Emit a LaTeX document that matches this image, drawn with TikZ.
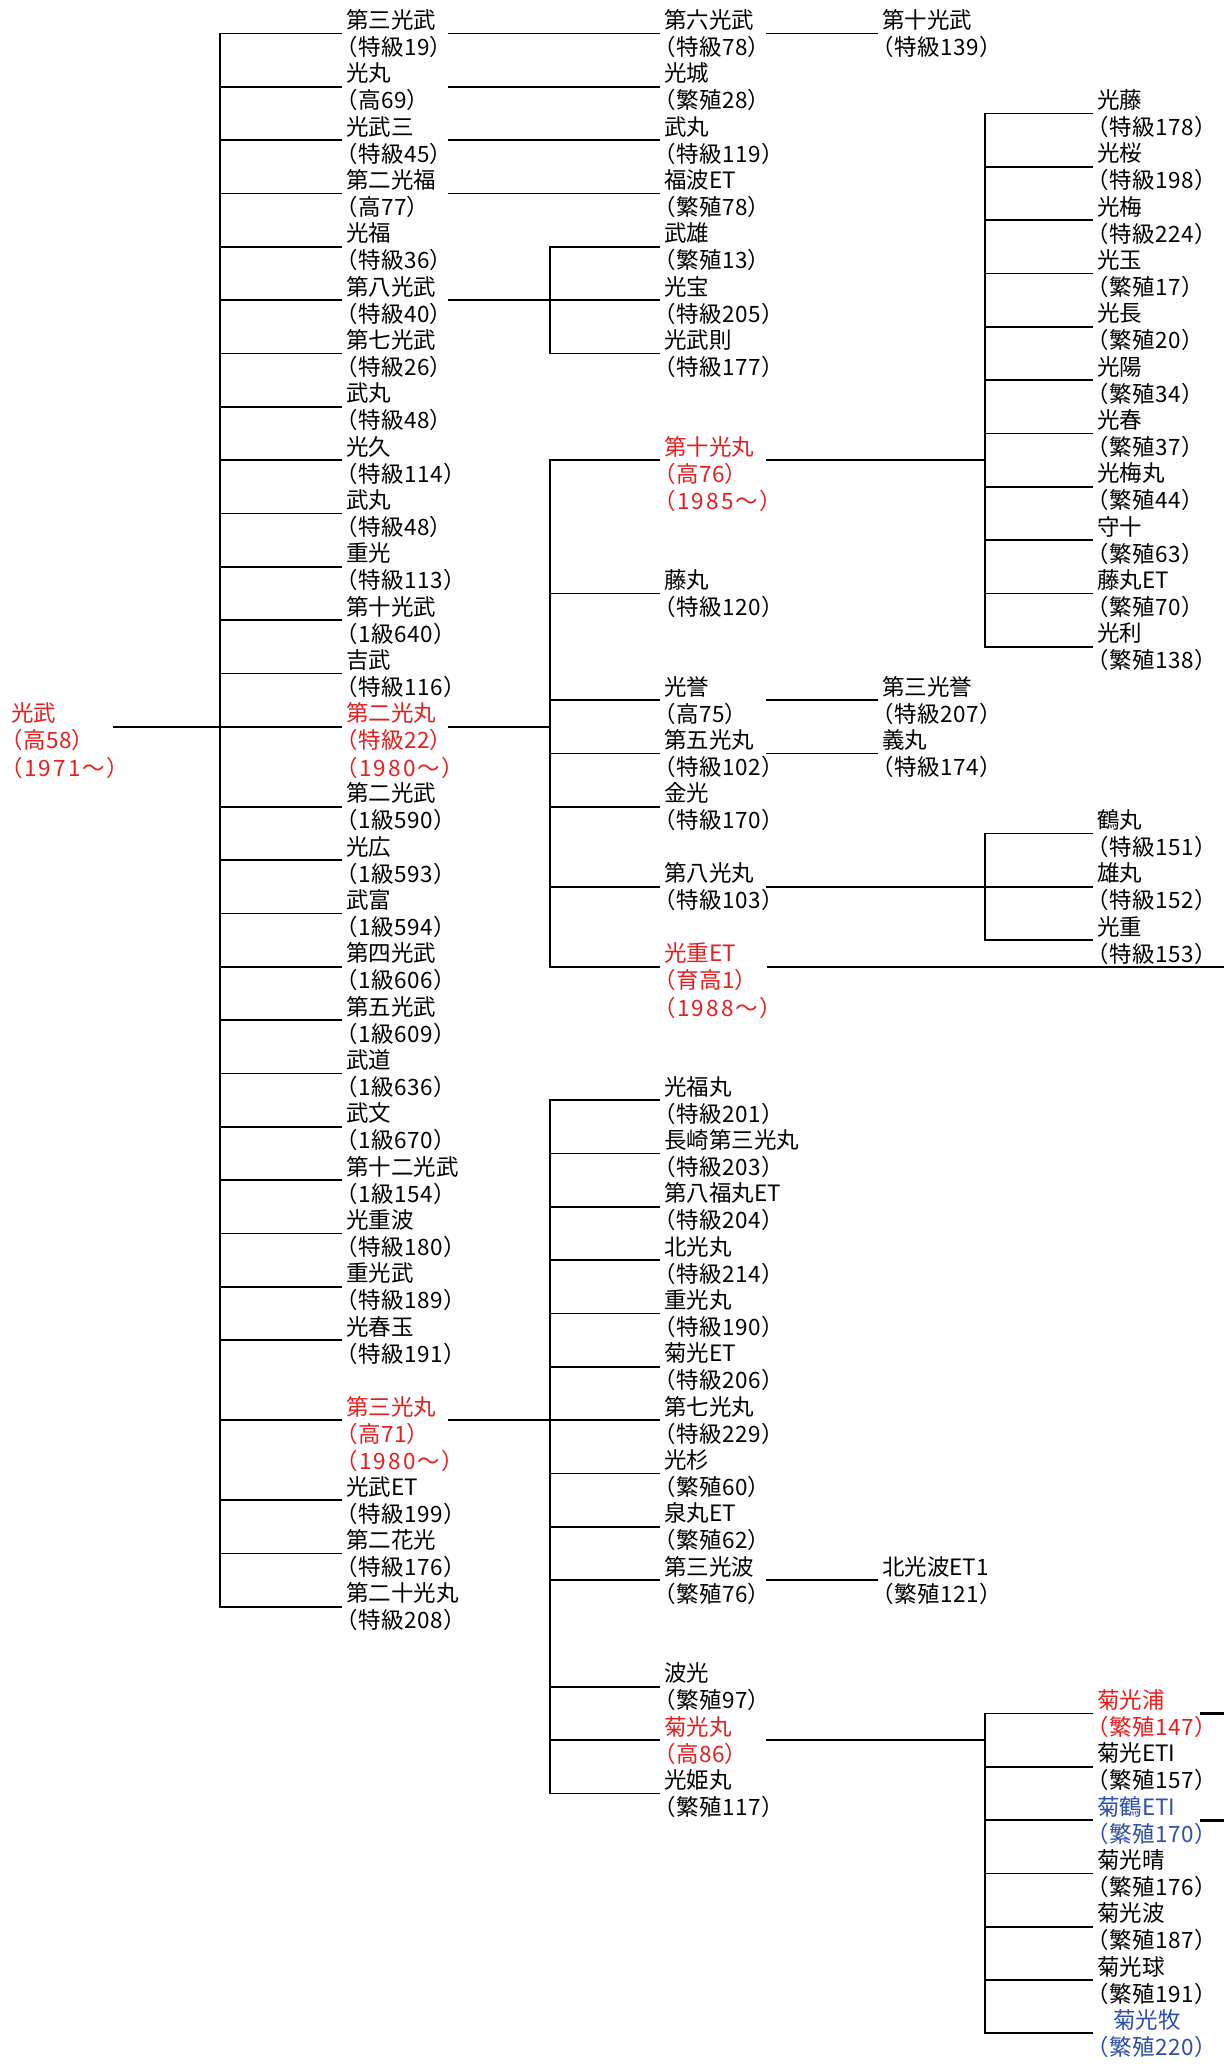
\documentclass[tikz,border=0pt]{standalone}
\usepackage{fontspec}
\newfontfamily\jp{Noto Sans CJK JP}[RawFeature=+palt]
\newfontfamily\jpi{Noto Sans CJK JP}[RawFeature=+palt,LetterSpace=3]
\newfontfamily\jpy{Noto Sans CJK JP}[RawFeature=+palt,LetterSpace=9]
\definecolor{kred}{RGB}{230,30,30}
\definecolor{kblue}{RGB}{45,80,170}
\tikzset{
  tx/.style={font=\jp\fontsize{22.5pt}{26.67pt}\selectfont, inner sep=0pt, anchor=west,
             text height=21.88pt, text depth=4.78pt},
  txi/.style={tx, font=\jpi\fontsize{22.5pt}{26.67pt}\selectfont, anchor=north west},
  txy/.style={tx, font=\jpy\fontsize{22.5pt}{26.67pt}\selectfont, anchor=north west},
  ln/.style={line width=1.8pt, line cap=rect},
  lnthick/.style={line width=2.7pt}
}
% [color]{node name}{x}{line index}{title}{info}
\newcommand\ent[6][black]{%
  \node[tx,text=#1] (#2) at (#3,{20+26.667*#4}) {#5};
  \node[txi,text=#1] (#2i) at (#2.south west) {#6};
}
\newcommand\yrline[2]{%
  \node[txy,text=kred] (#1y) at (#1i.south west) {#2};
}
\begin{document}
\begin{tikzpicture}[x=1pt,y=-1pt]
\useasboundingbox (0,0) rectangle (1224,2067);
\fill[white] (0,0) rectangle (1224,2067);
\coordinate (o0) at (114,0);
\coordinate (bus1) at (220,0);
\coordinate (o1) at (449,0);
\coordinate (bus2) at (550,0);
\coordinate (o2) at (767,0);
\coordinate (bus3) at (985,0);
\coordinate (o3) at (1200,0);
\coordinate (edge) at (1224,0);

% root
\ent[kred]{r}{11}{26}{光武}{（高58）}
\yrline{r}{（1971～）}

% column 1
\ent{a1}{346}{0}{第三光武}{（特級19）}
\ent{a2}{346}{2}{光丸}{（高69）}
\ent{a3}{346}{4}{光武三}{（特級45）}
\ent{a4}{346}{6}{第二光福}{（高77）}
\ent{a5}{346}{8}{光福}{（特級36）}
\ent{a6}{346}{10}{第八光武}{（特級40）}
\ent{a7}{346}{12}{第七光武}{（特級26）}
\ent{a8}{346}{14}{武丸}{（特級48）}
\ent{a9}{346}{16}{光久}{（特級114）}
\ent{a10}{346}{18}{武丸}{（特級48）}
\ent{a11}{346}{20}{重光}{（特級113）}
\ent{a12}{346}{22}{第十光武}{（1級640）}
\ent{a13}{346}{24}{吉武}{（特級116）}
\ent[kred]{a14}{346}{26}{第二光丸}{（特級22）}
\yrline{a14}{（1980～）}
\ent{a15}{346}{29}{第二光武}{（1級590）}
\ent{a16}{346}{31}{光広}{（1級593）}
\ent{a17}{346}{33}{武富}{（1級594）}
\ent{a18}{346}{35}{第四光武}{（1級606）}
\ent{a19}{346}{37}{第五光武}{（1級609）}
\ent{a20}{346}{39}{武道}{（1級636）}
\ent{a21}{346}{41}{武文}{（1級670）}
\ent{a22}{346}{43}{第十二光武}{（1級154）}
\ent{a23}{346}{45}{光重波}{（特級180）}
\ent{a24}{346}{47}{重光武}{（特級189）}
\ent{a25}{346}{49}{光春玉}{（特級191）}
\ent[kred]{a26}{346}{52}{第三光丸}{（高71）}
\yrline{a26}{（1980～）}
\ent{a27}{346}{55}{光武ET}{（特級199）}
\ent{a28}{346}{57}{第二花光}{（特級176）}
\ent{a29}{346}{59}{第二十光丸}{（特級208）}

% column 2
\ent{b1}{664}{0}{第六光武}{（特級78）}
\ent{b2}{664}{2}{光城}{（繁殖28）}
\ent{b3}{664}{4}{武丸}{（特級119）}
\ent{b4}{664}{6}{福波ET}{（繁殖78）}
\ent{b5}{664}{8}{武雄}{（繁殖13）}
\ent{b6}{664}{10}{光宝}{（特級205）}
\ent{b7}{664}{12}{光武則}{（特級177）}
\ent[kred]{b8}{664}{16}{第十光丸}{（高76）}
\yrline{b8}{（1985～）}
\ent{b9}{664}{21}{藤丸}{（特級120）}
\ent{b10}{664}{25}{光誉}{（高75）}
\ent{b11}{664}{27}{第五光丸}{（特級102）}
\ent{b12}{664}{29}{金光}{（特級170）}
\ent{b13}{664}{32}{第八光丸}{（特級103）}
\ent[kred]{b14}{664}{35}{光重ET}{（育高1）}
\yrline{b14}{（1988～）}
\ent{b15}{664}{40}{光福丸}{（特級201）}
\ent{b16}{664}{42}{長崎第三光丸}{（特級203）}
\ent{b17}{664}{44}{第八福丸ET}{（特級204）}
\ent{b18}{664}{46}{北光丸}{（特級214）}
\ent{b19}{664}{48}{重光丸}{（特級190）}
\ent{b20}{664}{50}{菊光ET}{（特級206）}
\ent{b21}{664}{52}{第七光丸}{（特級229）}
\ent{b22}{664}{54}{光杉}{（繁殖60）}
\ent{b23}{664}{56}{泉丸ET}{（繁殖62）}
\ent{b24}{664}{58}{第三光波}{（繁殖76）}
\ent{b25}{664}{62}{波光}{（繁殖97）}
\ent[kred]{b26}{664}{64}{菊光丸}{（高86）}
\ent{b27}{664}{66}{光姫丸}{（繁殖117）}

% column 3
\ent{c1}{882}{0}{第十光武}{（特級139）}
\ent{c2}{882}{25}{第三光誉}{（特級207）}
\ent{c3}{882}{27}{義丸}{（特級174）}
\ent{c4}{882}{58}{北光波ET1}{（繁殖121）}

% column 4
\ent{d1}{1097}{3}{光藤}{（特級178）}
\ent{d2}{1097}{5}{光桜}{（特級198）}
\ent{d3}{1097}{7}{光梅}{（特級224）}
\ent{d4}{1097}{9}{光玉}{（繁殖17）}
\ent{d5}{1097}{11}{光長}{（繁殖20）}
\ent{d6}{1097}{13}{光陽}{（繁殖34）}
\ent{d7}{1097}{15}{光春}{（繁殖37）}
\ent{d8}{1097}{17}{光梅丸}{（繁殖44）}
\ent{d9}{1097}{19}{守十}{（繁殖63）}
\ent{d10}{1097}{21}{藤丸ET}{（繁殖70）}
\ent{d11}{1097}{23}{光利}{（繁殖138）}
\ent{d12}{1097}{30}{鶴丸}{（特級151）}
\ent{d13}{1097}{32}{雄丸}{（特級152）}
\ent{d14}{1097}{34}{光重}{（特級153）}
\ent[kred]{d15}{1097}{63}{菊光浦}{（繁殖147）}
\ent{d16}{1097}{65}{菊光ETI}{（繁殖157）}
\ent[kblue]{d17}{1097}{67}{菊鶴ETI}{（繁殖170）}
\ent{d18}{1097}{69}{菊光晴}{（繁殖176）}
\ent{d19}{1097}{71}{菊光波}{（繁殖187）}
\ent{d20}{1097}{73}{菊光球}{（繁殖191）}
\node[tx,text=kblue] (d21) at (1113,{20+26.667*75}) {菊光牧};
\node[txi,text=kblue] (d21i) at (1097,{20+26.667*75.5}) {（繁殖220）};

% ---- connectors ----
\draw[ln] (o0 |- r.south) -- (bus1 |- r.south);
\draw[ln] (bus1 |- a1.south) -- (bus1 |- a29.south);
\foreach \k in {1,...,29} \draw[ln] (bus1 |- a\k.south) -- ([xshift=-4.5pt]a\k.south west);

\foreach \s/\t in {a1/b1,a2/b2,a3/b3,a4/b4}
  \draw[ln] (o1 |- \s.south) -- ([xshift=-4.5pt]\t.south west);

\draw[ln] (o1 |- a6.south) -- (bus2 |- a6.south);
\draw[ln] (bus2 |- b5.south) -- (bus2 |- b7.south);
\foreach \k in {5,6,7} \draw[ln] (bus2 |- b\k.south) -- ([xshift=-4.5pt]b\k.south west);

\draw[ln] (o1 |- a14.south) -- (bus2 |- a14.south);
\draw[ln] (bus2 |- b8.south) -- (bus2 |- b14.south);
\foreach \k in {8,...,14} \draw[ln] (bus2 |- b\k.south) -- ([xshift=-4.5pt]b\k.south west);

\draw[ln] (o1 |- a26.south) -- (bus2 |- a26.south);
\draw[ln] (bus2 |- b15.south) -- (bus2 |- b27.south);
\foreach \k in {15,...,27} \draw[ln] (bus2 |- b\k.south) -- ([xshift=-4.5pt]b\k.south west);

\foreach \s/\t in {b1/c1,b10/c2,b11/c3,b24/c4}
  \draw[ln] (o2 |- \s.south) -- ([xshift=-5pt]\t.south west);

\draw[ln] (o2 |- b8.south) -- (bus3 |- b8.south);
\draw[ln] (bus3 |- d1.south) -- (bus3 |- d11.south);
\foreach \k in {1,...,11} \draw[ln] (bus3 |- d\k.south) -- ([xshift=-5pt]d\k.south west);

\draw[ln] (o2 |- b13.south) -- (bus3 |- b13.south);
\draw[ln] (bus3 |- d12.south) -- (bus3 |- d14.south);
\foreach \k in {12,13,14} \draw[ln] (bus3 |- d\k.south) -- ([xshift=-5pt]d\k.south west);

\draw[lnthick] (o2 |- b14.south) -- (edge |- b14.south);

\draw[ln] (o2 |- b26.south) -- (bus3 |- b26.south);
\draw[ln] (bus3 |- d15.south) -- (bus3 |- d21i.north);
\foreach \k in {15,...,20} \draw[ln] (bus3 |- d\k.south) -- ([xshift=-5pt]d\k.south west);
\draw[ln] (bus3 |- d21i.north) -- ([xshift=-5pt]d21i.north west);

\draw[lnthick] (o3 |- d15.south) -- (edge |- d15.south);
\draw[lnthick] (o3 |- d17.south) -- (edge |- d17.south);
\end{tikzpicture}
\end{document}
